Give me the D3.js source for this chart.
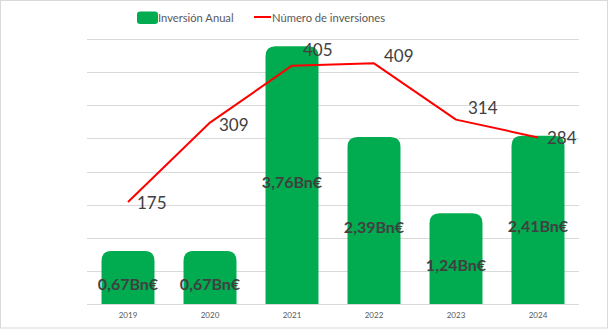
<!DOCTYPE html>
<html>
<head>
<meta charset="utf-8">
<script src="https://cdn.jsdelivr.net/npm/d3@7"></script>
<style>
  html, body { margin: 0; padding: 0; background: #fff; }
  svg { display: block; font-family: Lato, "Liberation Sans", sans-serif; }
</style>
</head>
<body>
<svg id="chart" width="609" height="329"></svg>
<script>
// Annual investment (billions of euros) and number of deals per year
const years = ["2019", "2020", "2021", "2022", "2023", "2024"];
const investment = [0.67, 0.67, 3.76, 2.39, 1.24, 2.41];
const investmentLabels = ["0,67Bn€", "0,67Bn€", "3,76Bn€", "2,39Bn€", "1,24Bn€", "2,41Bn€"];
const dealCount = [175, 309, 405, 409, 314, 284];
const legendLabels = ["Inversión Anual", "Número de inversiones"];

// Nudges for the count labels (layout only)
const countLabelOffset = [[9, 0], [9, 2], [11, -16], [10, -8], [12, -12], [9, 0]];

const svg = d3.select("#chart");
const W = 609, H = 329;
const plot = { left: 87, right: 579, top: 39, bottom: 304 };
const GREEN = "#00ac4f", RED = "#ff0000";

// outer frame
svg.append("rect")
  .attr("x", 0.5).attr("y", 0.5)
  .attr("width", W - 2).attr("height", H - 1.5)
  .attr("fill", "#fff").attr("stroke", "#d9d9d9").attr("stroke-width", 1);

const x = d3.scaleBand().domain(years)
  .range([plot.left, plot.right])
  .paddingInner(0.354).paddingOuter(0.177);

const yBar = d3.scaleLinear().domain([-0.13, 3.87]).range([plot.bottom, plot.top]);
const yCount = d3.scaleLinear().domain([3, 450]).range([plot.bottom, plot.top]);
const grid = d3.scaleLinear().domain([0, 8]).range([plot.bottom, plot.top]);

// horizontal gridlines
svg.append("g").selectAll("line")
  .data(d3.range(0, 9))
  .join("line")
  .attr("x1", plot.left).attr("x2", plot.right)
  .attr("y1", d => Math.round(grid(d)) + 0.5)
  .attr("y2", d => Math.round(grid(d)) + 0.5)
  .attr("stroke", "#d9d9d9").attr("stroke-width", 1);

// bars with rounded top corners
function topRounded(x0, y0, w, h, r) {
  r = Math.min(r, w / 2, h);
  return `M${x0},${y0 + h}V${y0 + r}Q${x0},${y0} ${x0 + r},${y0}` +
         `H${x0 + w - r}Q${x0 + w},${y0} ${x0 + w},${y0 + r}V${y0 + h}Z`;
}
svg.append("g").selectAll("path")
  .data(years)
  .join("path")
  .attr("fill", GREEN)
  .attr("d", (d, i) => {
    const top = yBar(investment[i]);
    return topRounded(x(d), top, x.bandwidth(), plot.bottom - top, 10);
  });

// category axis labels
const xAxis = d3.axisBottom(x).tickSize(0).tickPadding(8);
const gx = svg.append("g").attr("transform", `translate(0,${plot.bottom})`).call(xAxis);
gx.select(".domain").remove();
gx.selectAll("text")
  .attr("font-family", "Lato, 'Liberation Sans', sans-serif")
  .attr("font-size", 8).attr("fill", "#595959");

// deal-count line
const line = d3.line()
  .x((d, i) => x(years[i]) + x.bandwidth() / 2)
  .y(d => yCount(d));
svg.append("path")
  .datum(dealCount)
  .attr("d", line)
  .attr("fill", "none").attr("stroke", RED).attr("stroke-width", 2)
  .attr("stroke-linejoin", "round");

// investment labels inside bars
svg.append("g").selectAll("text")
  .data(years)
  .join("text")
  .attr("x", d => x(d) + x.bandwidth() / 2)
  .attr("y", (d, i) => (yBar(investment[i]) + plot.bottom) / 2 + 6)
  .attr("text-anchor", "middle").attr("dominant-baseline", "central")
  .attr("font-size", 16).attr("font-weight", "bold").attr("fill", "#404040")
  .text((d, i) => investmentLabels[i]);

// deal-count labels
svg.append("g").selectAll("text")
  .data(dealCount)
  .join("text")
  .attr("x", (d, i) => x(years[i]) + x.bandwidth() / 2 + countLabelOffset[i][0])
  .attr("y", (d, i) => yCount(d) + countLabelOffset[i][1])
  .attr("dominant-baseline", "central")
  .attr("font-size", 17).attr("fill", "#404040")
  .text(d => d);

// legend
const lg = svg.append("g");
lg.append("rect").attr("x", 137).attr("y", 11.5).attr("width", 21).attr("height", 12.5)
  .attr("rx", 3).attr("fill", GREEN);
lg.append("text").attr("x", 158).attr("y", 17.5).attr("dominant-baseline", "central")
  .attr("font-size", 11.2).attr("fill", "#595959").text(legendLabels[0]);
lg.append("line").attr("x1", 254).attr("x2", 271).attr("y1", 17).attr("y2", 17)
  .attr("stroke", RED).attr("stroke-width", 2);
lg.append("text").attr("x", 272).attr("y", 17.5).attr("dominant-baseline", "central")
  .attr("font-size", 11.2).attr("fill", "#595959").text(legendLabels[1]);
</script>
</body>
</html>
